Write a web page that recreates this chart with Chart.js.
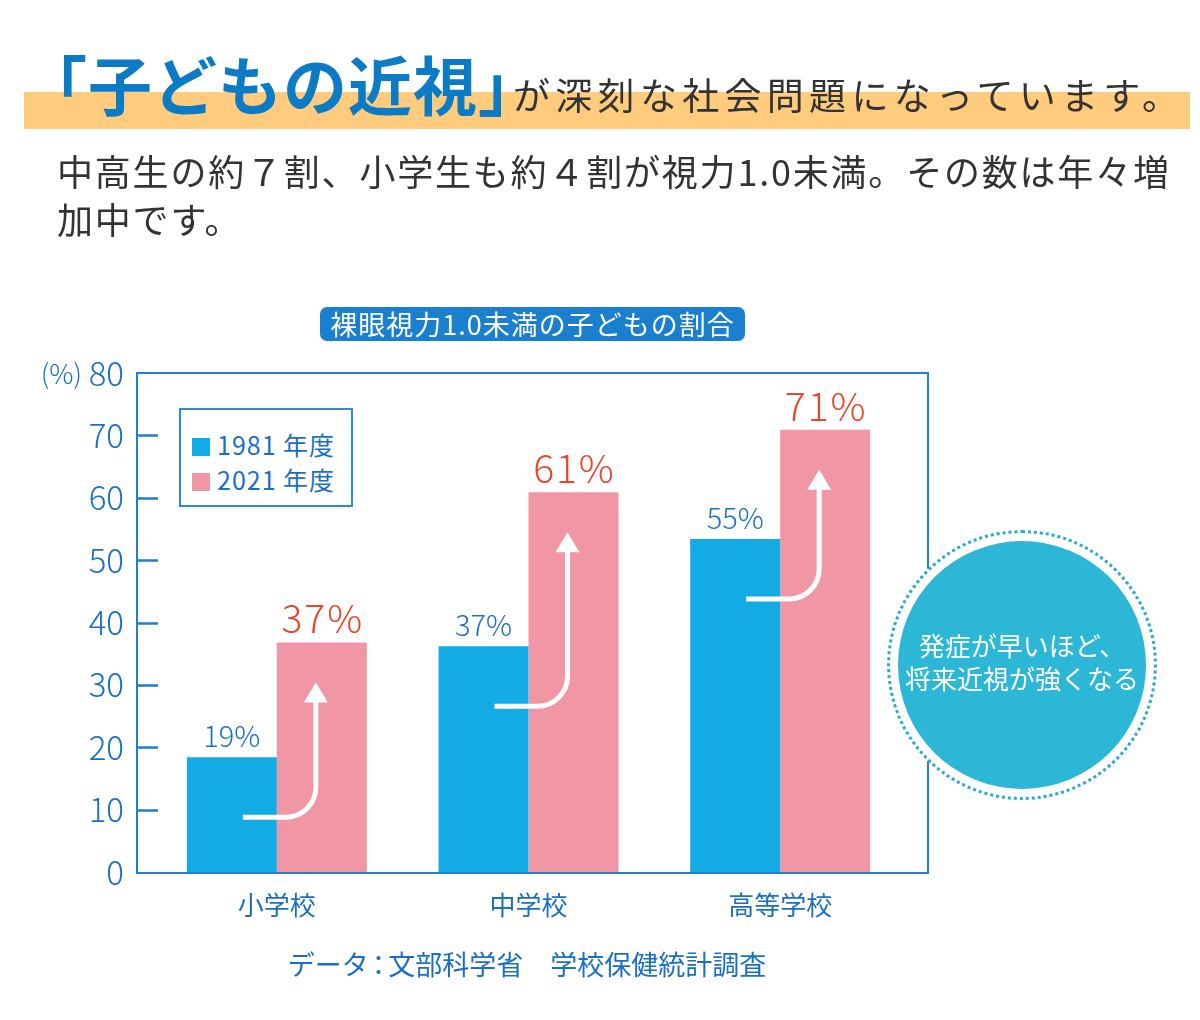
<!DOCTYPE html>
<html lang="ja">
<head>
<meta charset="utf-8">
<title>裸眼視力1.0未満の子どもの割合</title>
<script src="https://cdn.jsdelivr.net/npm/chart.js@4.4.1/dist/chart.umd.min.js"></script>
<style>
  html, body { margin: 0; padding: 0; background: #fff; }
  body {
    width: 1200px; height: 1020px; position: relative; overflow: hidden;
    font-family: "Noto Sans CJK JP", "Noto Sans", sans-serif;
  }
  #chart { position: absolute; left: 0; top: 0; }
  .band { position: absolute; left: 24px; top: 92px; width: 1166px; height: 37px; background: #ffcc7e; }
  .headline { position: absolute; left: 23px; top: 50px; white-space: nowrap; line-height: 1; }
  .headline .big { font-size: 64px; font-weight: 700; color: #0b7bc6; letter-spacing: 1px; }
  .headline .small { font-size: 37px; font-weight: 400; color: #333; letter-spacing: 5.3px; margin-left: -30px; }
  .lead { position: absolute; left: 57px; top: 146px; font-size: 36px; line-height: 48px; color: #333; white-space: nowrap; letter-spacing: 1.8px; }
  .chart-title {
    position: absolute; left: 320px; top: 307px; width: 425px; height: 34px;
    background: #1a7fcf; border-radius: 7px; color: #fff; font-size: 27px; line-height: 34px; text-align: center;
    letter-spacing: 1px; white-space: nowrap;
  }
  .legend {
    position: absolute; left: 179px; top: 408px; width: 170px; height: 95px;
    border: 2px solid #2a8bd6; background: #fff;
  }
  .legend .item { position: absolute; left: 11px; height: 24px; font-size: 25px; line-height: 24px; color: #1a6fc4; white-space: nowrap; letter-spacing: 1px; }
  .legend .sw { display: inline-block; width: 18px; height: 18px; margin-right: 7px; vertical-align: -1px; }
  .bubble {
    position: absolute; left: 887px; top: 530px; width: 264px; height: 264px; border-radius: 50%;
    border: 3px dotted #2aa9d2; background: #fff;
  }
  .bubble .fill {
    position: absolute; left: 8px; top: 8px; width: 248px; height: 248px; border-radius: 50%;
    background: #2cb7d6; color: #fff; font-size: 26px; line-height: 33px; text-align: center;
    display: flex; align-items: center; justify-content: center; padding-bottom: 8px; box-sizing: border-box;
  }
  .source { position: absolute; left: 0; width: 1054px; top: 944px; text-align: center; font-size: 27px; color: #1a6fc4; }
  .source .colon { font-feature-settings: "halt"; margin: 0 3px; }
</style>
</head>
<body>
<canvas id="chart" width="1200" height="1020"></canvas>
<div class="band"></div>
<div class="headline"><span class="big">「子どもの近視」</span><span class="small">が深刻な社会問題になっています。</span></div>
<div class="lead">中高生の約７割、小学生も約４割が視力1.0未満。その数は年々増<br>加中です。</div>
<div class="chart-title">裸眼視力1.0未満の子どもの割合</div>
<div class="legend" id="legend"></div>
<div class="bubble"><div class="fill">発症が早いほど、<br>将来近視が強くなる</div></div>
<div class="source">データ<span class="colon">：</span>文部科学省　学校保健統計調査</div>

<script>
// data
const categories = ['小学校', '中学校', '高等学校'];
const seriesNames = ['1981 年度', '2021 年度'];
const values1981 = [18.4, 36.2, 53.4];
const values2021 = [36.8, 60.9, 70.9];
const labels1981 = ['19%', '37%', '55%'];
const labels2021 = ['37%', '61%', '71%'];
const yTicks = [0, 10, 20, 30, 40, 50, 60, 70, 80];

const BLUE = '#13abe3';
const PINK = '#f196a4';
const TEXT_BLUE = '#1a6fc4';
const RED = '#e8472c';
const FRAME = '#1f7fd0';
const FONT = '"Noto Sans CJK JP", "Noto Sans", sans-serif';

// legend box (html, placed inside the plot frame)
const legendEl = document.getElementById('legend');
[BLUE, PINK].forEach((c, i) => {
  const row = document.createElement('div');
  row.className = 'item';
  row.style.top = (22 + i * 35) + 'px';
  row.innerHTML = '<span class="sw" style="background:' + c + '"></span>' + seriesNames[i];
  legendEl.appendChild(row);
});

// frame, inward ticks, value labels and the white arrows
const decor = {
  id: 'decor',
  afterDatasetsDraw(chart) {
    const { ctx, chartArea: a, scales: { y } } = chart;
    const top = y.getPixelForValue(yTicks[yTicks.length - 1]);
    const bottom = y.getPixelForValue(0);
    const left = a.left - 14;
    const right = a.right + 22;
    ctx.save();

    // arrows from the 1981 bar up into the 2021 bar
    const m0 = chart.getDatasetMeta(0);
    const m1 = chart.getDatasetMeta(1);
    ctx.strokeStyle = '#fff';
    ctx.fillStyle = '#fff';
    ctx.lineWidth = 5;
    m0.data.forEach((b, i) => {
      const p = m1.data[i];
      const x0 = b.x + 11, y0 = b.y + 60;
      const x1 = p.x - 6, tip = p.y + 40;
      const r = 30;
      ctx.beginPath();
      ctx.moveTo(x0, y0);
      ctx.lineTo(x1 - r, y0);
      ctx.arcTo(x1, y0, x1, y0 - r, r);
      ctx.lineTo(x1, tip + 16);
      ctx.stroke();
      ctx.beginPath();
      ctx.moveTo(x1, tip);
      ctx.lineTo(x1 - 12, tip + 20);
      ctx.lineTo(x1 + 12, tip + 20);
      ctx.closePath();
      ctx.fill();
    });

    // frame
    ctx.strokeStyle = FRAME;
    ctx.lineWidth = 2;
    ctx.strokeRect(left, top, right - left, bottom - top + 1);
    ctx.beginPath();
    yTicks.forEach(v => {
      if (v > 0 && v < yTicks[yTicks.length - 1]) {
        const py = Math.round(y.getPixelForValue(v)) + 0.5;
        ctx.moveTo(left, py);
        ctx.lineTo(left + 21, py);
      }
    });
    ctx.lineWidth = 2.5;
    ctx.stroke();

    // unit
    ctx.fillStyle = TEXT_BLUE;
    ctx.font = '300 27px ' + FONT;
    ctx.textAlign = 'right';
    ctx.textBaseline = 'middle';
    ctx.fillText('(%)', 82, top + 1);

    // value labels
    ctx.textAlign = 'center';
    ctx.textBaseline = 'alphabetic';
    m0.data.forEach((b, i) => {
      ctx.fillStyle = TEXT_BLUE;
      ctx.font = '300 29px ' + FONT;
      ctx.fillText(labels1981[i], b.x, b.y - 10);
    });
    m1.data.forEach((b, i) => {
      ctx.fillStyle = RED;
      ctx.font = '300 39px ' + FONT;
      ctx.letterSpacing = '2px';
      ctx.fillText(labels2021[i], b.x + 1, b.y - 9);
      ctx.letterSpacing = '0px';
    });
    ctx.restore();
  }
};

new Chart(document.getElementById('chart'), {
  type: 'bar',
  data: {
    labels: categories,
    datasets: [
      { label: seriesNames[0], data: values1981, backgroundColor: BLUE },
      { label: seriesNames[1], data: values2021, backgroundColor: PINK }
    ]
  },
  options: {
    responsive: false,
    animation: false,
    devicePixelRatio: 1,
    categoryPercentage: 0.715,
    barPercentage: 1,
    layout: { padding: { top: 373, right: 294, bottom: 88, left: 0 } },
    plugins: { legend: { display: false }, tooltip: { enabled: false } },
    scales: {
      x: {
        grid: { display: false, drawTicks: false },
        border: { display: false },
        ticks: { color: TEXT_BLUE, font: { family: FONT, size: 26 }, padding: 18 },
        afterFit: s => { s.height = 60; }
      },
      y: {
        min: 0,
        max: 80,
        afterBuildTicks: s => { s.ticks = yTicks.map(v => ({ value: v })); },
        grid: { display: false, drawTicks: false },
        border: { display: false },
        ticks: { color: TEXT_BLUE, font: { family: FONT, size: 33, weight: 300 }, padding: 27 },
        afterFit: s => { s.width = 151; }
      }
    }
  },
  plugins: [decor]
});
</script>
</body>
</html>
